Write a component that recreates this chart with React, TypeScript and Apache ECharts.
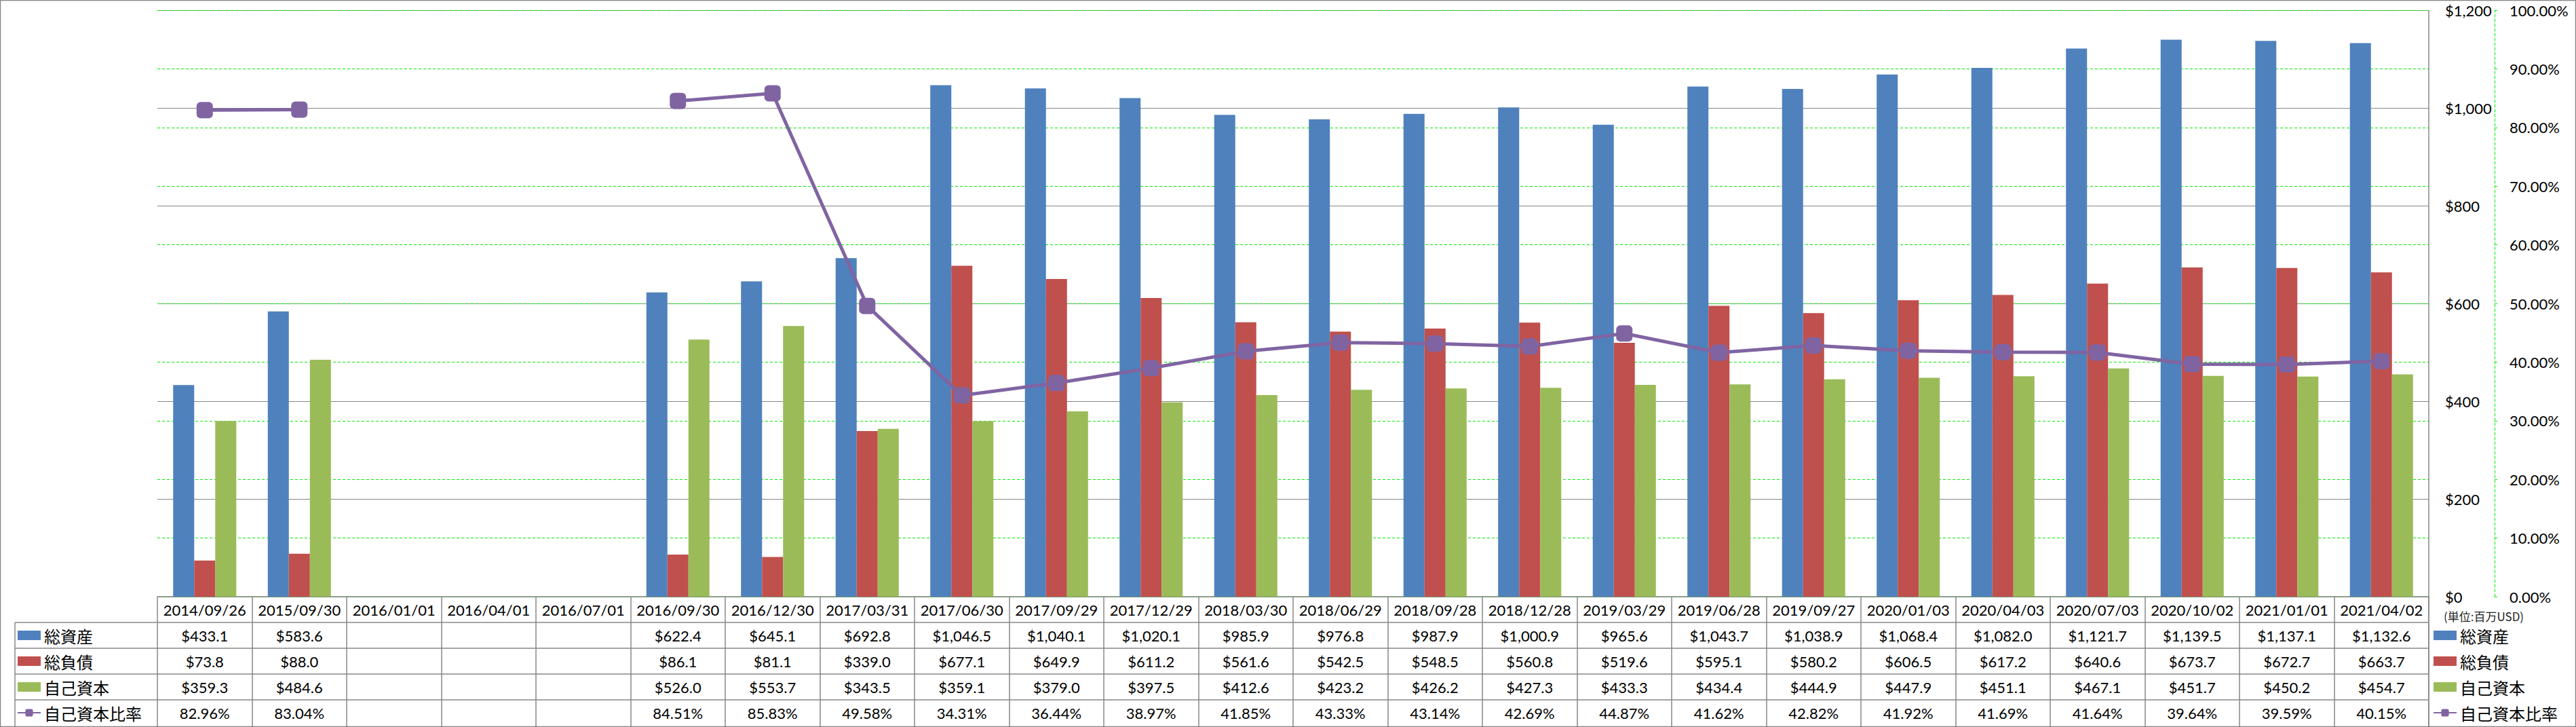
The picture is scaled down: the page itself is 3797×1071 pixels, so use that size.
import React, { useEffect, useRef } from "react";
import * as echarts from "echarts";

const categories = [
  "2014/09/26", "2015/09/30", "2016/01/01", "2016/04/01", "2016/07/01", "2016/09/30",
  "2016/12/30", "2017/03/31", "2017/06/30", "2017/09/29", "2017/12/29", "2018/03/30",
  "2018/06/29", "2018/09/28", "2018/12/28", "2019/03/29", "2019/06/28", "2019/09/27",
  "2020/01/03", "2020/04/03", "2020/07/03", "2020/10/02", "2021/01/01", "2021/04/02",
];
const totalAssets = [
  433.1, 583.6, null, null, null, 622.4, 645.1, 692.8, 1046.5, 1040.1, 1020.1, 985.9,
  976.8, 987.9, 1000.9, 965.6, 1043.7, 1038.9, 1068.4, 1082.0, 1121.7, 1139.5, 1137.1, 1132.6,
];
const totalLiabilities = [
  73.8, 88.0, null, null, null, 86.1, 81.1, 339.0, 677.1, 649.9, 611.2, 561.6,
  542.5, 548.5, 560.8, 519.6, 595.1, 580.2, 606.5, 617.2, 640.6, 673.7, 672.7, 663.7,
];
const equity = [
  359.3, 484.6, null, null, null, 526.0, 553.7, 343.5, 359.1, 379.0, 397.5, 412.6,
  423.2, 426.2, 427.3, 433.3, 434.4, 444.9, 447.9, 451.1, 467.1, 451.7, 450.2, 454.7,
];
const equityRatio = [
  82.96, 83.04, null, null, null, 84.51, 85.83, 49.58, 34.31, 36.44, 38.97, 41.85,
  43.33, 43.14, 42.69, 44.87, 41.62, 42.82, 41.92, 41.69, 41.64, 39.64, 39.59, 40.15,
];
const seriesNames = ["総資産", "総負債", "自己資本", "自己資本比率"];
const seriesColors = ["#4F81BD", "#C0504D", "#9BBB59", "#8064A2"];
const unitLabel = "(単位:百万USD)";

const W = 3797;
const H = 1071;
const PLOT_L = 232;
const PLOT_R = 3580;
const PLOT_T = 15;
const PLOT_B = 879;
const ROW_H = 38;
const TABLE_L = 22;
const GRAY = "#878787";
const GREEN = "#00F000";
const FONT = "Lato, 'Noto Sans CJK JP', sans-serif";

function fmtMoney(v: number | null): string {
  if (v == null) return "";
  const s = v.toFixed(1);
  const [i, d] = s.split(".");
  return "$" + i.replace(/\B(?=(\d{3})+(?!\d))/g, ",") + "." + d;
}
function fmtPct(v: number | null): string {
  if (v == null) return "";
  return v.toFixed(2) + "%";
}

export default function App() {
  const ref = useRef<HTMLDivElement>(null);
  useEffect(() => {
    if (!ref.current) return;
    const chart = echarts.init(ref.current, undefined, { renderer: "svg" });

    const graphics: any[] = [];
    graphics.push({
      type: "rect",
      silent: true,
      shape: { x: 0.5, y: 0.5, width: W - 1, height: H - 1 },
      style: { fill: "none", stroke: GRAY, lineWidth: 1.5 },
    });
    for (let r = 1; r <= 4; r++) {
      const y = PLOT_B + r * ROW_H;
      graphics.push({
        type: "line",
        silent: true,
        shape: { x1: TABLE_L, y1: y, x2: PLOT_R, y2: y },
        style: { stroke: GRAY, lineWidth: 1.5 },
      });
    }
    graphics.push({
      type: "line",
      silent: true,
      shape: { x1: TABLE_L, y1: PLOT_B + ROW_H, x2: TABLE_L, y2: H },
      style: { stroke: GRAY, lineWidth: 1.5 },
    });
    graphics.push({
      type: "line",
      silent: true,
      shape: { x1: PLOT_R, y1: PLOT_T, x2: PLOT_R, y2: H },
      style: { stroke: GRAY, lineWidth: 1.5 },
    });
    graphics.push({
      type: "text",
      silent: true,
      x: 3602,
      y: 907,
      style: {
        text: unitLabel,
        font: "17px 'Noto Sans CJK JP', sans-serif",
        fill: "#222",
        verticalAlign: "middle",
        align: "left",
      },
    });

    const legendCommon = {
      orient: "vertical",
      top: PLOT_B + ROW_H,
      height: 4 * ROW_H + 10,
      padding: 0,
      itemWidth: 34,
      itemHeight: 14,
      itemGap: 0,
      selectedMode: false,
      textStyle: {
        fontSize: 24,
        lineHeight: ROW_H,
        color: "#000",
        fontFamily: "'Noto Sans CJK JP', sans-serif",
      },
      data: [
        { name: seriesNames[0], icon: "rect" },
        { name: seriesNames[1], icon: "rect" },
        { name: seriesNames[2], icon: "rect" },
        { name: seriesNames[3] },
      ],
    };

    const option: any = {
      animation: false,
      backgroundColor: "#fff",
      grid: {
        left: PLOT_L,
        right: W - PLOT_R,
        top: PLOT_T,
        bottom: H - PLOT_B,
        containLabel: false,
        outerBoundsMode: "none",
      },
      legend: [
        { ...legendCommon, left: 25 },
        { ...legendCommon, left: 3586 },
      ],
      xAxis: {
        type: "category",
        data: categories,
        boundaryGap: true,
        axisLine: { show: true, lineStyle: { color: GRAY, width: 1.5 } },
        axisTick: {
          show: true,
          inside: false,
          length: H - PLOT_B,
          lineStyle: { color: GRAY, width: 1.5 },
        },
        axisLabel: {
          interval: 0,
          margin: 0,
          verticalAlign: "top",
          align: "center",
          lineHeight: ROW_H,
          fontSize: 22,
          fontFamily: FONT,
          color: "#000",
          formatter: (_v: string, i: number) =>
            [
              categories[i],
              fmtMoney(totalAssets[i]),
              fmtMoney(totalLiabilities[i]),
              fmtMoney(equity[i]),
              fmtPct(equityRatio[i]),
            ].join("\n"),
        },
        splitLine: { show: false },
      },
      yAxis: [
        {
          type: "value",
          position: "right",
          min: 0,
          max: 1200,
          interval: 200,
          axisLine: { show: false },
          axisTick: { show: false },
          axisLabel: {
            margin: 24,
            align: "left",
            fontSize: 22,
            fontFamily: FONT,
            color: "#000",
            formatter: (v: number) => "$" + v.toLocaleString("en-US"),
          },
          splitLine: { show: true, lineStyle: { color: GRAY, width: 1.2 } },
        },
        {
          type: "value",
          position: "right",
          offset: 3677 - PLOT_R,
          min: 0,
          max: 100,
          interval: 10,
          axisLine: {
            show: true,
            lineStyle: { color: GREEN, width: 1, type: [4, 3] },
          },
          axisTick: {
            show: true,
            inside: false,
            length: 7,
            lineStyle: { color: GREEN, width: 1, type: [4, 3] },
          },
          axisLabel: {
            margin: 22,
            align: "left",
            fontSize: 22,
            fontFamily: FONT,
            color: "#000",
            formatter: (v: number) => v.toFixed(2) + "%",
          },
          splitLine: {
            show: true,
            lineStyle: { color: GREEN, width: 1, type: [4, 3] },
          },
        },
      ],
      series: [
        {
          name: seriesNames[0],
          type: "bar",
          data: totalAssets,
          yAxisIndex: 0,
          barGap: "0%",
          barCategoryGap: "33.3%",
          itemStyle: { color: seriesColors[0] },
        },
        {
          name: seriesNames[1],
          type: "bar",
          data: totalLiabilities,
          yAxisIndex: 0,
          barGap: "0%",
          barCategoryGap: "33.3%",
          itemStyle: { color: seriesColors[1] },
        },
        {
          name: seriesNames[2],
          type: "bar",
          data: equity,
          yAxisIndex: 0,
          barGap: "0%",
          barCategoryGap: "33.3%",
          itemStyle: { color: seriesColors[2] },
        },
        {
          name: seriesNames[3],
          type: "line",
          data: equityRatio,
          yAxisIndex: 1,
          connectNulls: false,
          symbol: "roundRect",
          symbolSize: 24,
          itemStyle: { color: seriesColors[3] },
          lineStyle: { color: seriesColors[3], width: 5 },
          z: 5,
        },
      ],
      graphic: graphics,
    };

    chart.setOption(option);
    return () => chart.dispose();
  }, []);

  return (
    <div
      ref={ref}
      style={{ position: "fixed", left: 0, top: 0, width: W, height: H, background: "#fff" }}
    />
  );
}
